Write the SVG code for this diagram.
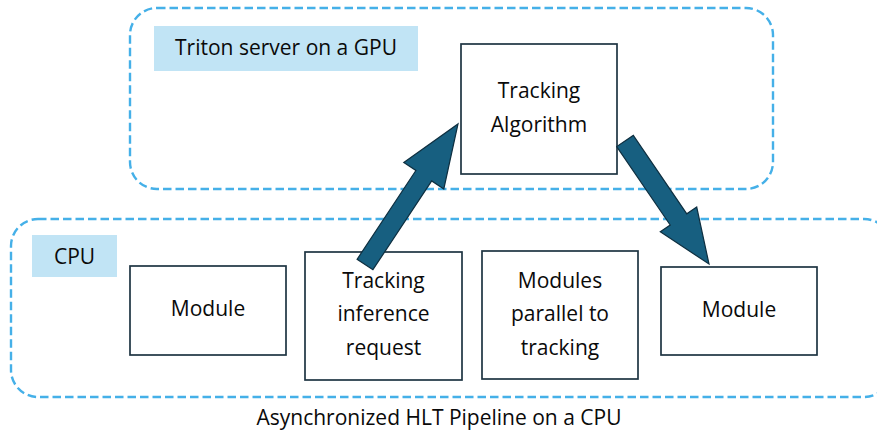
<svg xmlns="http://www.w3.org/2000/svg" width="877" height="434" viewBox="0 0 877 434">
<style>
.cont{fill:none;stroke:#45b0e8;stroke-width:2.4;stroke-dasharray:8.5 4}
.lab{fill:#c1e4f5}
.box{fill:#fff;stroke:#1e3442;stroke-width:1.7}
.t{font-family:"Open Sans","Liberation Sans",sans-serif;font-size:21px;fill:#0a0a0a;text-anchor:middle}
.arr{fill:#175f80;stroke:#0e2f40;stroke-width:1.2;stroke-linejoin:miter}
</style>
<rect width="877" height="434" fill="#fff"/>
<g id="gpu">
<rect class="cont" x="130" y="8" width="643" height="181" rx="27"/>
<rect class="lab" x="154" y="26" width="264" height="45"/>
<text class="t" x="286" y="55">Triton server on a GPU</text>
</g>
<g id="cpu">
<rect class="cont" x="11" y="219" width="880" height="178" rx="27"/>
<rect class="lab" x="32" y="235" width="85" height="42"/>
<text class="t" x="74.5" y="264">CPU</text>
</g>
<g id="tracking-algorithm">
<rect class="box" x="461" y="44" width="156" height="130"/>
<text class="t" x="539" y="98">Tracking</text>
<text class="t" x="539" y="132">Algorithm</text>
</g>
<g id="module1">
<rect class="box" x="130" y="266" width="156" height="89"/>
<text class="t" x="208" y="316">Module</text>
</g>
<g id="tracking-request">
<rect class="box" x="305" y="252" width="157" height="128"/>
<text class="t" x="383.5" y="288">Tracking</text>
<text class="t" x="383.5" y="321">inference</text>
<text class="t" x="383.5" y="355">request</text>
</g>
<g id="parallel">
<rect class="box" x="482" y="251" width="156" height="128"/>
<text class="t" x="560" y="288">Modules</text>
<text class="t" x="560" y="321">parallel to</text>
<text class="t" x="560" y="355">tracking</text>
</g>
<g id="module2">
<rect class="box" x="661" y="267" width="156" height="88"/>
<text class="t" x="739" y="317">Module</text>
</g>
<g id="connectors">
<polygon class="arr" points="357.1,259.3 415.9,170.5 403.8,162.5 458,124 443.8,188.9 431.7,180.9 372.9,269.7"/>
<polygon class="arr" points="633.3,135.4 686.8,213.8 696.7,207 709,264 660.3,231.8 670.2,225 616.7,146.6"/>
</g>
<text class="t" x="439" y="425">Asynchronized HLT Pipeline on a CPU</text>
</svg>
